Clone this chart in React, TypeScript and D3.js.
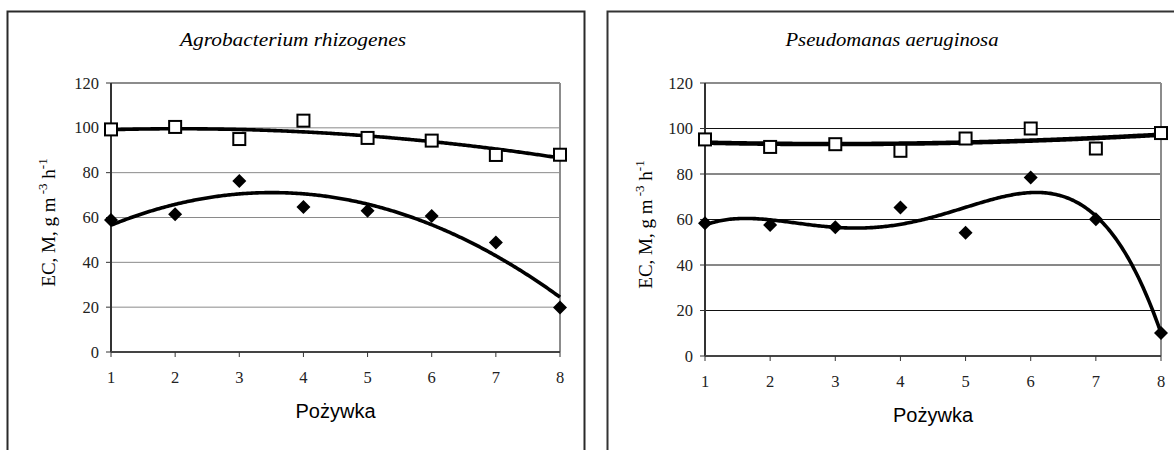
import React from "react";
import * as d3 from "d3";

const xCategories = [1, 2, 3, 4, 5, 6, 7, 8];
const yTicks = [0, 20, 40, 60, 80, 100, 120];

const agroSquares = [99.3, 100.4, 95, 103.2, 95.5, 94.3, 87.9, 88];
const agroDiamonds = [58.9, 61.4, 76.3, 64.7, 63, 60.7, 48.8, 19.8];
const pseudoSquares = [95.2, 91.9, 93.1, 90.2, 95.6, 100, 91.2, 98];
const pseudoDiamonds = [58.3, 57.6, 56.6, 65.3, 54.2, 78.5, 60.1, 10.1];

const titles = ["Agrobacterium rhizogenes", "Pseudomanas aeruginosa"];
const xLabel = "Pożywka";

function polyFit(xs: number[], ys: number[], deg: number): number[] {
  const n = deg + 1;
  const A: number[][] = Array.from({ length: n }, () => new Array(n + 1).fill(0));
  for (let i = 0; i < xs.length; i++) {
    for (let r = 0; r < n; r++) {
      for (let c = 0; c < n; c++) A[r][c] += Math.pow(xs[i], r + c);
      A[r][n] += ys[i] * Math.pow(xs[i], r);
    }
  }
  for (let col = 0; col < n; col++) {
    let piv = col;
    for (let r = col + 1; r < n; r++) if (Math.abs(A[r][col]) > Math.abs(A[piv][col])) piv = r;
    [A[col], A[piv]] = [A[piv], A[col]];
    for (let r = 0; r < n; r++) {
      if (r === col) continue;
      const f = A[r][col] / A[col][col];
      for (let c = col; c <= n; c++) A[r][c] -= f * A[col][c];
    }
  }
  return A.map((row, i) => row[n] / A[i][i]);
}

function evalPoly(coef: number[], x: number) {
  return coef.reduce((s, c, i) => s + c * Math.pow(x, i), 0);
}

type PanelProps = {
  x0: number; x1: number; yTop: number; yBot: number;
  title: string; titleX: number; titleLen: number;
  squares: number[]; diamonds: number[];
  sqDeg: number; diDeg: number; sqWidth: number;
  gridColor: string; yLabelX: number;
};

function Panel(p: PanelProps) {
  const x = d3.scaleLinear().domain([1, 8]).range([p.x0, p.x1]);
  const y = d3.scaleLinear().domain([0, 120]).range([p.yBot, p.yTop]);
  const samples = d3.range(0, 301).map((i) => 1 + (7 * i) / 300);
  const line = d3.line<number[]>().x((d) => x(d[0])).y((d) => y(d[1]));
  const sqC = polyFit(xCategories, p.squares, p.sqDeg);
  const diC = polyFit(xCategories, p.diamonds, p.diDeg);
  const sqPath = line(samples.map((s) => [s, evalPoly(sqC, s)]))!;
  const diPath = line(samples.map((s) => [s, evalPoly(diC, s)]))!;
  const yMid = (p.yTop + p.yBot) / 2 + 5;
  const d = 7;
  return (
    <g>
      {yTicks.slice(1).map((t) => (
        <line key={t} x1={p.x0} x2={p.x1} y1={y(t)} y2={y(t)} stroke={p.gridColor} strokeWidth={1} />
      ))}
      <line x1={p.x1} x2={p.x1} y1={p.yTop} y2={p.yBot} stroke="#8c8c8c" strokeWidth={2} />
      <line x1={p.x0} x2={p.x1} y1={p.yTop} y2={p.yTop} stroke="#8c8c8c" strokeWidth={2} />
      <line x1={p.x0} x2={p.x0} y1={p.yTop} y2={p.yBot} stroke="#333" strokeWidth={2} />
      <line x1={p.x0} x2={p.x1} y1={p.yBot} y2={p.yBot} stroke="#444" strokeWidth={2} />
      {yTicks.map((t) => (
        <g key={t}>
          <line x1={p.x0 - 5} x2={p.x0} y1={y(t)} y2={y(t)} stroke="#333" strokeWidth={1} />
          <text x={p.x0 - 12} y={y(t) + 5.5} textAnchor="end" fontFamily="Liberation Serif" fontSize={16.5} fill="#222">{t}</text>
        </g>
      ))}
      {xCategories.map((c) => (
        <g key={c}>
          <line x1={x(c)} x2={x(c)} y1={p.yBot} y2={p.yBot + 5} stroke="#333" strokeWidth={1} />
          <text x={x(c)} y={p.yBot + 31} textAnchor="middle" fontFamily="Liberation Serif" fontSize={16.5} fill="#222">{c}</text>
        </g>
      ))}
      <path d={sqPath} fill="none" stroke="#000" strokeWidth={p.sqWidth} />
      <path d={diPath} fill="none" stroke="#000" strokeWidth={3.6} />
      {p.squares.map((v, i) => (
        <rect key={i} x={x(xCategories[i]) - 6} y={y(v) - 6} width={12} height={12} fill="#fff" stroke="#000" strokeWidth={2} />
      ))}
      {p.diamonds.map((v, i) => (
        <path key={i} d={`M${x(xCategories[i])},${y(v) - d}l${d},${d}l${-d},${d}l${-d},${-d}z`} fill="#000" />
      ))}
      <text x={p.titleX} y={46} textAnchor="middle" fontFamily="Liberation Serif" fontStyle="italic" fontSize={19}
        textLength={p.titleLen} lengthAdjust="spacingAndGlyphs" fill="#000">{p.title}</text>
      <text x={(p.x0 + p.x1) / 2} y={p.yBot + 66} textAnchor="middle" fontFamily="Liberation Sans" fontSize={20} fill="#000">{xLabel}</text>
      <text transform={`translate(${p.yLabelX},${yMid}) rotate(-90)`} textAnchor="middle" fontFamily="Liberation Serif" fontSize={19} fill="#000">
        EC, M, g m<tspan dy={-8} fontSize={13}> -3</tspan><tspan dy={8}> h</tspan><tspan dy={-8} fontSize={13}>-1</tspan>
      </text>
    </g>
  );
}

export default function App() {
  return (
    <svg width={1174} height={450} style={{ position: "absolute", left: 0, top: 0, background: "#fff" }}>
      <rect x={0} y={0} width={1174} height={450} fill="#fff" />
      <path d="M7.5,460 V11.5 H584.5 V460" fill="none" stroke="#2a2a2a" strokeWidth={2} />
      <path d="M607.5,460 V11.5 H1190" fill="none" stroke="#333" strokeWidth={2} />
      <Panel x0={111} x1={560} yTop={83} yBot={352} title={titles[0]} titleX={293} titleLen={226}
        squares={agroSquares} diamonds={agroDiamonds} sqDeg={2} diDeg={2} sqWidth={3.6} gridColor="#8a8a8a" yLabelX={55} />
      <Panel x0={705} x1={1161} yTop={83} yBot={356} title={titles[1]} titleX={892} titleLen={213}
        squares={pseudoSquares} diamonds={pseudoDiamonds} sqDeg={2} diDeg={4} sqWidth={4.6} gridColor="#111" yLabelX={652} />
    </svg>
  );
}
